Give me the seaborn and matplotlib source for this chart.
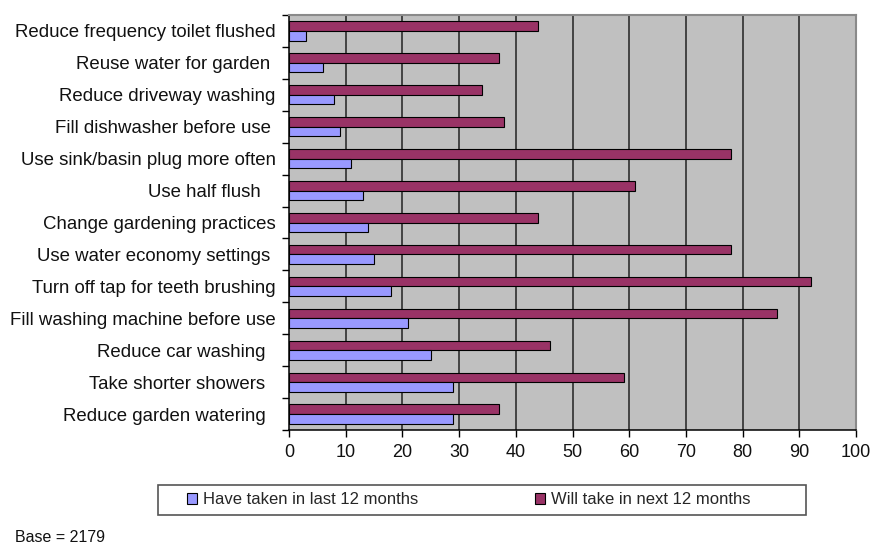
import matplotlib
matplotlib.use("Agg")
import matplotlib.pyplot as plt
from matplotlib.patches import Patch, Rectangle
from matplotlib.ticker import FixedLocator
import pandas as pd
import seaborn as sns

# Water-saving actions, listed top to bottom
actions = [
    "Reduce frequency toilet flushed",
    "Reuse water for garden ",
    "Reduce driveway washing",
    "Fill dishwasher before use ",
    "Use sink/basin plug more often",
    "Use half flush   ",
    "Change gardening practices",
    "Use water economy settings ",
    "Turn off tap for teeth brushing",
    "Fill washing machine before use",
    "Reduce car washing  ",
    "Take shorter showers  ",
    "Reduce garden watering  ",
]

# Percentage of respondents
have_taken = [3, 6, 8, 9, 11, 13, 14, 15, 18, 21, 25, 29, 29]
will_take = [44, 37, 34, 38, 78, 61, 44, 78, 92, 86, 46, 59, 37]

series_have = "Have taken in last 12 months"
series_will = "Will take in next 12 months"
x_ticks = [0, 10, 20, 30, 40, 50, 60, 70, 80, 90, 100]
base_note = "Base = 2179"

palette = {series_have: "#9999FF", series_will: "#993366"}

df = pd.DataFrame({
    "action": actions * 2,
    "pct": have_taken + will_take,
    "series": [series_have] * len(actions) + [series_will] * len(actions),
})

sns.set_theme(style="white")
plt.rcParams["font.family"] = ["Liberation Sans", "DejaVu Sans"]

W, H = 874, 545
fig = plt.figure(figsize=(W / 100, H / 100), dpi=100)
ax_l, ax_r, ax_t, ax_b = 289, 856, 15, 430
ax = fig.add_axes([ax_l / W, 1 - ax_b / H, (ax_r - ax_l) / W, (ax_b - ax_t) / H])
ax.set_facecolor("#C0C0C0")

sns.barplot(
    data=df, y="action", x="pct", hue="series", order=actions,
    hue_order=[series_will, series_have], palette=palette, saturation=1,
    orient="h", width=0.6, edgecolor="black", linewidth=0.8, legend=False,
    ax=ax,
)

ax.set_xlim(0, 100)
ax.set_ylim(len(actions) - 0.5, -0.5)
ax.set_xlabel("")
ax.set_ylabel("")

# x axis
ax.xaxis.set_major_locator(FixedLocator(x_ticks))
ax.set_xticklabels([str(t) for t in x_ticks])
ax.tick_params(axis="x", which="major", direction="out", length=5, width=1,
               color="black", labelsize=13, pad=5, bottom=True)

# y axis: labels at category centres, tick marks between categories
ax.tick_params(axis="y", which="major", length=0, labelsize=13.4, pad=9.5,
               left=True)
ax.yaxis.set_minor_locator(FixedLocator([i - 0.5 for i in range(len(actions) + 1)]))
ax.tick_params(axis="y", which="minor", direction="out", length=5, width=1,
               color="black", left=True)
for lbl in ax.get_yticklabels() + ax.get_xticklabels():
    lbl.set_color("#111111")

# vertical gridlines
ax.set_axisbelow(True)
ax.xaxis.grid(True, color="#222222", linewidth=1.1)
ax.yaxis.grid(False)
ticks = ax.xaxis.get_major_ticks()
ticks[0].gridline.set_visible(False)
ticks[-1].gridline.set_visible(False)

for side in ["left", "bottom"]:
    ax.spines[side].set_color("black")
    ax.spines[side].set_linewidth(1.1)
for side in ["top", "right"]:
    ax.spines[side].set_color("#8a8a8a")
    ax.spines[side].set_linewidth(1.5)

# legend box below the plot
lx0, ly0, lx1, ly1 = 158, 485, 806, 515
fig.patches.append(Rectangle(
    (lx0 / W, 1 - ly1 / H), (lx1 - lx0) / W, (ly1 - ly0) / H,
    transform=fig.transFigure, facecolor="white", edgecolor="#555555",
    linewidth=1.2, zorder=1,
))
handles = [
    Patch(facecolor=palette[series_have], edgecolor="black", linewidth=0.8),
    Patch(facecolor=palette[series_will], edgecolor="black", linewidth=0.8),
]
fig.legend(
    handles, [series_have, series_will], loc="center",
    bbox_to_anchor=(469 / W, 1 - 500 / H), ncol=2, frameon=False,
    fontsize=12, handlelength=0.6, handleheight=0.6, handletextpad=0.35,
    columnspacing=7.0, borderpad=0.0,
)

fig.text(15 / W, 1 - 537 / H, base_note, fontsize=11.5, va="center",
         ha="left", color="#111111")

fig.savefig("out.png", dpi=100)
